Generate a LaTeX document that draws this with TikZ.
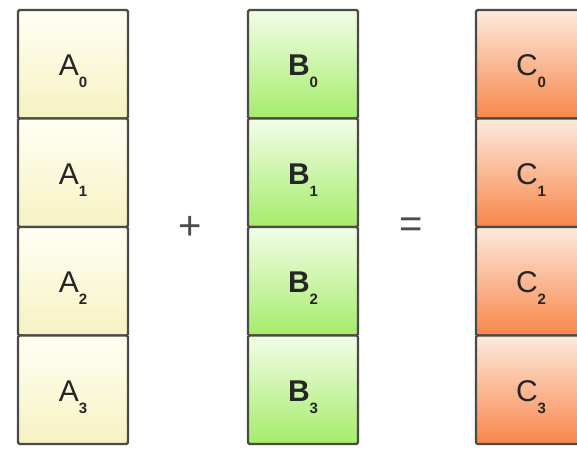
\documentclass[tikz,border=0pt]{standalone}
\usepackage{fontspec}
\setmainfont{Liberation Sans}
\definecolor{abot}{RGB}{246,242,194}
\definecolor{atop}{RGB}{255,255,244}
\definecolor{bbot}{RGB}{166,236,106}
\definecolor{btop}{RGB}{242,253,232}
\definecolor{cbot}{RGB}{248,134,74}
\definecolor{ctop}{RGB}{253,234,222}
\definecolor{edge}{RGB}{74,74,70}
\newcommand{\cellname}[2]{#1\raisebox{-12pt}{\fontsize{15}{15}\selectfont\bfseries #2}}
\begin{document}
\begin{tikzpicture}[x=1pt, y=-1pt,
    cell/.style={rectangle, draw=edge, line width=2.4pt, rounded corners=1.5pt,
      minimum width=110pt, minimum height=108.5pt, inner sep=0pt,
      text height=23pt, text depth=0pt,
      font=\fontsize{30}{33}\selectfont, text=black!85},
    acell/.style={cell, top color=atop, bottom color=abot},
    bcell/.style={cell, top color=btop, bottom color=bbot, font=\fontsize{30}{33}\selectfont\bfseries},
    ccell/.style={cell, top color=ctop, bottom color=cbot},
    sign/.style={font=\fontsize{40}{44}\selectfont, text=black!70},
  ]
    \useasboundingbox (0, 0) rectangle (577, 452);
    \clip (0, 0) rectangle (577, 452);

    \node[acell] (a0) at (73, 64.25)  {\cellname{A}{0}};
    \node[acell] (a1) at (73, 172.75) {\cellname{A}{1}};
    \node[acell] (a2) at (73, 281.25) {\cellname{A}{2}};
    \node[acell] (a3) at (73, 389.75) {\cellname{A}{3}};

    \node[bcell] (b0) at (303, 64.25)  {\cellname{B}{0}};
    \node[bcell] (b1) at (303, 172.75) {\cellname{B}{1}};
    \node[bcell] (b2) at (303, 281.25) {\cellname{B}{2}};
    \node[bcell] (b3) at (303, 389.75) {\cellname{B}{3}};

    \node[ccell] (c0) at (531, 64.25)  {\cellname{C}{0}};
    \node[ccell] (c1) at (531, 172.75) {\cellname{C}{1}};
    \node[ccell] (c2) at (531, 281.25) {\cellname{C}{2}};
    \node[ccell] (c3) at (531, 389.75) {\cellname{C}{3}};

    \node[sign] (plus)   at (190, 228) {+};
    \node[sign] (equals) at (411, 228) {=};
  \end{tikzpicture}
\end{document}
